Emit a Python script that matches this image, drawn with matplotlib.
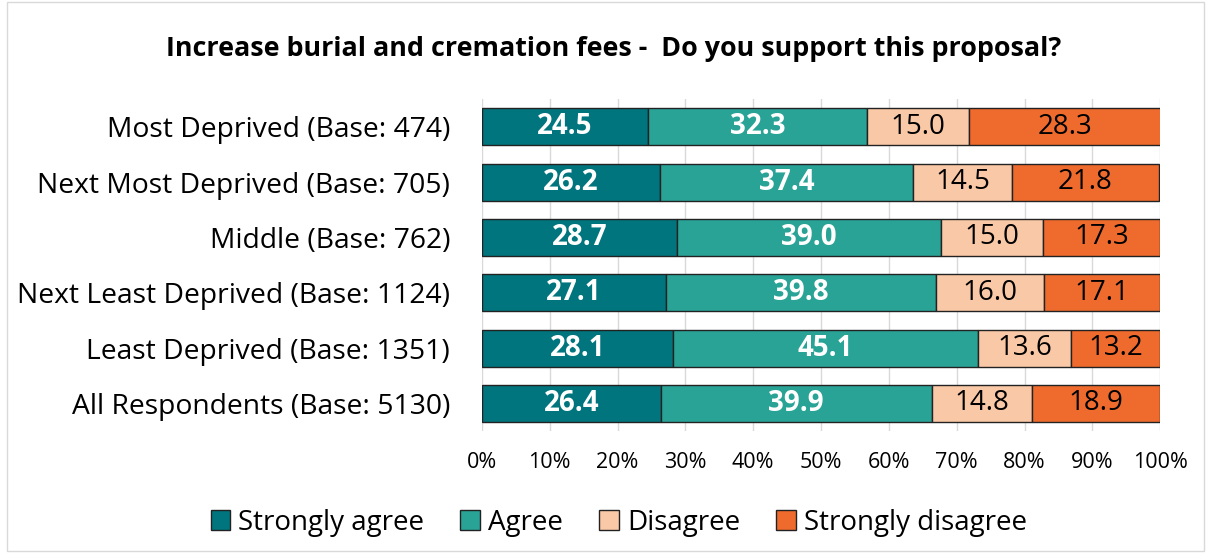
import matplotlib.pyplot as plt
import numpy as np
from matplotlib.patches import Rectangle

plt.rcParams['font.family'] = ['Open Sans', 'DejaVu Sans']

groups = ['Most Deprived (Base: 474)', 'Next Most Deprived (Base: 705)', 'Middle (Base: 762)',
          'Next Least Deprived (Base: 1124)', 'Least Deprived (Base: 1351)', 'All Respondents (Base: 5130)']
strongly_agree = [24.5, 26.2, 28.7, 27.1, 28.1, 26.4]
agree = [32.3, 37.4, 39.0, 39.8, 45.1, 39.9]
disagree = [15.0, 14.5, 15.0, 16.0, 13.6, 14.8]
strongly_disagree = [28.3, 21.8, 17.3, 17.1, 13.2, 18.9]

series = [('Strongly agree', strongly_agree, '#00757d', 'white', 'bold'),
          ('Agree', agree, '#29a396', 'white', 'bold'),
          ('Disagree', disagree, '#f9c8a6', 'black', 'normal'),
          ('Strongly disagree', strongly_disagree, '#ee6b2d', 'black', 'normal')]

fig = plt.figure(figsize=(12.11, 5.55), dpi=100)
ax = fig.add_axes([0.398, 0.2234, 0.56, 0.598])

y = np.arange(len(groups))
left = np.zeros(len(groups))
for name, vals, color, tcolor, weight in series:
    vals = np.array(vals)
    bars = ax.barh(y, vals, left=left, height=0.67, color=color, edgecolor='#222222',
                   linewidth=1, label=name, zorder=3)
    for b, v in zip(bars, vals):
        ax.text(b.get_x() + b.get_width() / 2, b.get_y() + b.get_height() / 2, f'{v:.1f}',
                ha='center', va='center', color=tcolor, fontweight=weight, fontsize=20, zorder=4)
    left += vals

ax.set_xlim(0, 100)
ax.set_ylim(len(groups) - 0.5, -0.5)
ax.set_yticks(y)
ax.set_yticklabels(groups, fontsize=20.3)
ax.set_xticks(np.arange(0, 101, 10))
ax.set_xticklabels([f'{t}%' for t in range(0, 101, 10)], fontsize=15.5)
ax.tick_params(axis='both', length=0)
ax.tick_params(axis='x', pad=15)
ax.tick_params(axis='y', pad=23)
ax.grid(axis='x', color='#d9d9d9', linewidth=1, zorder=0)
for s in ax.spines.values():
    s.set_visible(False)

fig.suptitle('Increase burial and cremation fees -  Do you support this proposal?',
             fontsize=19.4, fontweight='bold', x=0.507, y=0.935)

ax.legend(loc='center', bbox_to_anchor=(0.511, 0.058), bbox_transform=fig.transFigure,
          ncol=4, frameon=False, fontsize=20, handlelength=0.7, handleheight=0.7,
          handletextpad=0.3, columnspacing=1.3)

# light frame around the whole chart area
fig.patches.append(Rectangle((0.006, 0.008), 0.988, 0.988, transform=fig.transFigure,
                             fill=False, edgecolor='#d9d9d9', linewidth=1))

fig.savefig('out.png', dpi=100)
